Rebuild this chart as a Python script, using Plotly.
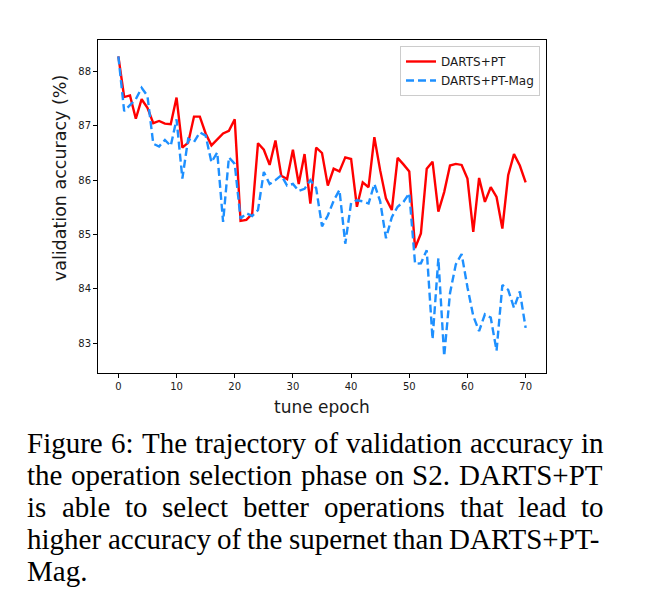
import plotly.graph_objects as go

# ---------------- data ----------------
epochs = list(range(71))
darts_pt = [88.28, 87.53, 87.56, 87.13, 87.49, 87.33, 87.05, 87.09, 87.04, 87.03, 87.52,
            86.60, 86.69, 87.17, 87.17, 86.86, 86.64, 86.75, 86.86, 86.91, 87.12,
            85.25, 85.27, 85.38, 86.68, 86.56, 86.28, 86.73, 86.08, 86.02, 86.56,
            85.93, 86.48, 85.57, 86.60, 86.50, 85.90, 86.21, 86.16, 86.42, 86.39,
            85.51, 85.96, 85.87, 86.79, 86.18, 85.66, 85.45, 86.41, 86.29, 86.16,
            84.75, 85.02, 86.21, 86.34, 85.42, 85.78, 86.27, 86.30, 86.28, 86.03,
            85.05, 86.04, 85.60, 85.87, 85.69, 85.11, 86.09, 86.48, 86.27, 85.96]
darts_pt_mag = [88.28, 87.27, 87.38, 87.49, 87.70, 87.55, 86.67, 86.62, 86.74, 86.63, 87.12,
                86.03, 86.76, 86.70, 86.88, 86.82, 86.33, 86.51, 85.23, 86.42, 86.30,
                85.29, 85.39, 85.34, 85.45, 86.15, 85.93, 86.00, 86.09, 85.90, 85.93,
                85.80, 85.84, 86.00, 85.85, 85.15, 85.35, 85.62, 85.82, 84.83, 85.58,
                85.63, 85.61, 85.57, 85.93, 85.61, 84.93, 85.32, 85.51, 85.60, 85.76,
                84.46, 84.47, 84.71, 83.07, 84.56, 82.76, 83.92, 84.45, 84.64, 84.03,
                83.50, 83.22, 83.53, 83.47, 82.86, 84.07, 83.98, 83.65, 83.95, 83.28]
series_names = ["DARTS+PT", "DARTS+PT-Mag"]
x_ticks = [0, 10, 20, 30, 40, 50, 60, 70]
y_ticks = [83, 84, 85, 86, 87, 88]
x_label = "tune epoch"
y_label = "validation accuracy (%)"
caption_lines = [
    "Figure 6: The trajectory of validation accuracy in",
    "the operation selection phase on S2.  DARTS+PT",
    "is able to select better operations that lead to",
    "higher accuracy of the supernet than DARTS+PT-",
    "Mag.",
]

# ---------------- layout geometry (page pixel coords) ----------------
PAGE_W, PAGE_H = 659, 615
OFF = 8  # default body margin of the html page
W, H = PAGE_W - OFF, PAGE_H - OFF
L, R, T, B = 97.7, 546.0, 40.0, 373.3
PW, PH = R - L, B - T


def px(xp):
    return (xp - L) / PW


def py(yp):
    return (B - yp) / PH


AX_FONT = "DejaVu Sans, Arial, sans-serif"
CAP_FONT = "Liberation Serif, Times New Roman, Times, serif"
TXT = "#1a1a1a"

fig = go.Figure()
fig.add_trace(go.Scatter(x=epochs, y=darts_pt, mode="lines", name=series_names[0],
                         line=dict(color="#ff0000", width=2.4)))
fig.add_trace(go.Scatter(x=epochs, y=darts_pt_mag, mode="lines", name=series_names[1],
                         line=dict(color="#1e90ff", width=2.4, dash="8px,4px")))

axis_common = dict(showgrid=False, zeroline=False, showline=True, linecolor="black",
                   linewidth=1, mirror=True, ticks="outside", ticklen=4, tickwidth=1,
                   tickcolor="black", tickfont=dict(family=AX_FONT, size=10, color=TXT))
fig.update_xaxes(range=[-3.5, 73.5], tickvals=x_ticks, **axis_common)
fig.update_yaxes(range=[82.45, 88.58], tickvals=y_ticks, **axis_common)

annotations = [
    dict(text=x_label, xref="paper", yref="paper", x=0.5, y=py(407), showarrow=False,
         xanchor="center", yanchor="middle", font=dict(family=AX_FONT, size=17, color=TXT)),
    dict(text=y_label, xref="paper", yref="paper", x=px(60), y=py(178), showarrow=False,
         textangle=-90, xanchor="center", yanchor="middle",
         font=dict(family=AX_FONT, size=17.5, color=TXT)),
]

# ---------------- justified caption ----------------
TW = {
    'a': 444, 'b': 500, 'c': 444, 'd': 500, 'e': 444, 'f': 333, 'g': 500, 'h': 500,
    'i': 278, 'j': 278, 'k': 500, 'l': 278, 'm': 778, 'n': 500, 'o': 500, 'p': 500,
    'q': 500, 'r': 333, 's': 389, 't': 278, 'u': 500, 'v': 500, 'w': 722, 'x': 500,
    'y': 500, 'z': 444, 'A': 722, 'D': 722, 'F': 556, 'M': 889, 'P': 556, 'R': 667,
    'S': 556, 'T': 611, '2': 500, '6': 500, ':': 278, '.': 250, '+': 564, '-': 333,
}
CAP_SIZE = 29
cap_left, cap_right = 25.0, 602.0
baselines = [453, 485, 517, 549, 581]


def word_w(w):
    return sum(TW.get(c, 500) for c in w) / 1000.0 * CAP_SIZE


for i, line in enumerate(caption_lines):
    words = line.split()
    yc = baselines[i] - 0.33 * CAP_SIZE
    widths = [word_w(w) for w in words]
    positions = []
    xs = cap_left
    if i == len(caption_lines) - 1 or len(words) == 1:
        gap = 0.25 * CAP_SIZE
    else:
        gap = (cap_right - cap_left - sum(widths)) / (len(words) - 1)
    for ww in widths:
        positions.append(xs)
        xs += ww + gap
    for w, xs in zip(words, positions):
        annotations.append(dict(text=w, xref="paper", yref="paper", x=px(xs), y=py(yc),
                                showarrow=False, xanchor="left", yanchor="middle",
                                font=dict(family=CAP_FONT, size=CAP_SIZE, color="black")))

fig.update_layout(
    width=W, height=H,
    margin=dict(l=L - OFF, r=PAGE_W - R, t=T - OFF, b=PAGE_H - B, pad=0),
    paper_bgcolor="white", plot_bgcolor="white",
    showlegend=True,
    legend=dict(x=px(540), y=py(46), xanchor="right", yanchor="top",
                bordercolor="#cccccc", borderwidth=1, bgcolor="white",
                font=dict(family=AX_FONT, size=12, color=TXT),
                tracegroupgap=0, itemwidth=30),
    annotations=annotations,
)

fig.write_html("out.html")
